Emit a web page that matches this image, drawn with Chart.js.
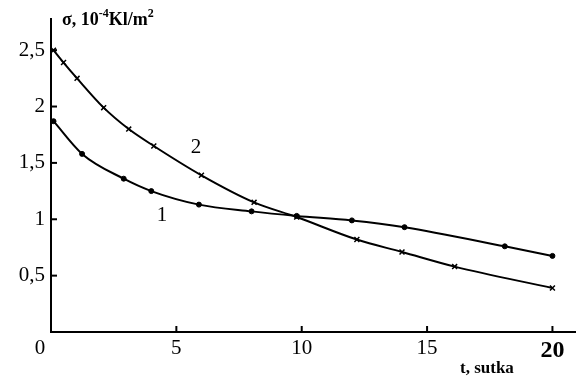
<!DOCTYPE html>
<html>
<head>
<meta charset="utf-8">
<script src="https://cdn.jsdelivr.net/npm/chart.js@4/dist/chart.umd.min.js"></script>
<style>
  body { margin: 0; background: #fff; }
  #wrap { width: 581px; height: 380px; position: relative; }
</style>
</head>
<body>
<div id="wrap"><canvas id="grafico"></canvas></div>
<script>
// dados (t em dias, sigma em 10^-4 Kl/m2)
const t1 = [0.1, 1.24, 2.9, 4.0, 5.9, 8.0, 9.8, 12.0, 14.1, 18.1, 20.0];
const s1 = [1.87, 1.58, 1.36, 1.25, 1.13, 1.07, 1.03, 0.99, 0.93, 0.76, 0.675];
const t2 = [0.1, 0.5, 1.04, 2.1, 3.1, 4.1, 6.0, 8.1, 9.8, 12.2, 14.0, 16.1, 20.0];
const s2 = [2.5, 2.39, 2.25, 1.99, 1.80, 1.65, 1.39, 1.15, 1.02, 0.82, 0.71, 0.58, 0.39];
const xTicks = [0, 5, 10, 15, 20];
const yTicks = [0.5, 1, 1.5, 2, 2.5];

const serif = '"Liberation Serif", "DejaVu Serif", serif';

function pares(xs, ys) { return xs.map((x, i) => ({ x, y: ys[i] })); }

/* ===== ticks para dentro + textos soltos ===== */
const extras = {
  id: 'extras',
  afterDraw(chart) {
    const { ctx, scales: { x, y } } = chart;
    ctx.save();
    ctx.strokeStyle = '#000';
    ctx.lineWidth = 2;
    xTicks.filter(v => v > 0).forEach(v => {
      const px = x.getPixelForValue(v);
      ctx.beginPath(); ctx.moveTo(px, y.bottom); ctx.lineTo(px, y.bottom - 6); ctx.stroke();
    });
    yTicks.forEach(v => {
      const py = y.getPixelForValue(v);
      ctx.beginPath(); ctx.moveTo(x.left, py); ctx.lineTo(x.left + 6, py); ctx.stroke();
    });

    ctx.fillStyle = '#000';
    ctx.textBaseline = 'alphabetic';
    // origem
    ctx.font = '21px ' + serif;
    ctx.textAlign = 'center';
    ctx.fillText('0', 40, 354);
    // rótulos das curvas
    ctx.fillText('2', 196, 153);
    ctx.fillText('1', 162, 221);

    // título eixo x
    ctx.font = 'bold 17px ' + serif;
    ctx.textAlign = 'left';
    ctx.fillText('t, sutka', 460, 373);

    // título eixo y com sobrescritos
    let cx = 62;
    const base = 25;
    const pedaco = (txt, tam, dy) => {
      ctx.font = 'bold ' + tam + 'px ' + serif;
      ctx.fillText(txt, cx, base + dy);
      cx += ctx.measureText(txt).width;
    };
    pedaco('σ, 10', 18, 0);
    pedaco('-4', 12, -8);
    pedaco('Kl/m', 18, 0);
    pedaco('2', 12, -8);
    ctx.restore();
  }
};

new Chart(document.getElementById('grafico'), {
  type: 'line',
  data: {
    datasets: [
      {
        label: '1', data: pares(t1, s1),
        borderColor: '#000', borderWidth: 2, backgroundColor: '#000',
        pointStyle: 'circle', pointRadius: 2.5, pointBorderWidth: 1,
        cubicInterpolationMode: 'monotone', fill: false
      },
      {
        label: '2', data: pares(t2, s2),
        borderColor: '#000', borderWidth: 2, backgroundColor: '#000',
        pointStyle: 'crossRot', pointRadius: 3.5, pointBorderWidth: 1.5,
        cubicInterpolationMode: 'monotone', fill: false
      }
    ]
  },
  options: {
    responsive: true,
    maintainAspectRatio: false,
    animation: false,
    layout: { padding: { top: 15, right: 6, left: 0, bottom: 0 } },
    plugins: { legend: { display: false }, tooltip: { enabled: false } },
    scales: {
      x: {
        type: 'linear', min: 0, max: 20.9,
        afterFit: s => { s.height = 48; },
        afterBuildTicks: s => { s.ticks = xTicks.map(v => ({ value: v })); },
        grid: { display: false, drawTicks: false },
        border: { display: true, color: '#000', width: 2 },
        ticks: {
          color: '#000', padding: 4, maxRotation: 0, autoSkip: false,
          font: c => (c.tick && c.tick.value === 20)
            ? { family: serif, size: 24, weight: 'bold' }
            : { family: serif, size: 21 },
          callback: v => v === 0 ? '' : String(v)
        }
      },
      y: {
        type: 'linear', min: 0, max: 2.78,
        afterFit: s => { s.width = 51; },
        afterBuildTicks: s => { s.ticks = yTicks.map(v => ({ value: v })); },
        grid: { display: false, drawTicks: false },
        border: { display: true, color: '#000', width: 2 },
        ticks: {
          color: '#000', padding: 6, autoSkip: false,
          font: { family: serif, size: 21 },
          callback: v => String(v).replace('.', ',')
        }
      }
    }
  },
  plugins: [extras]
});
</script>
</body>
</html>
